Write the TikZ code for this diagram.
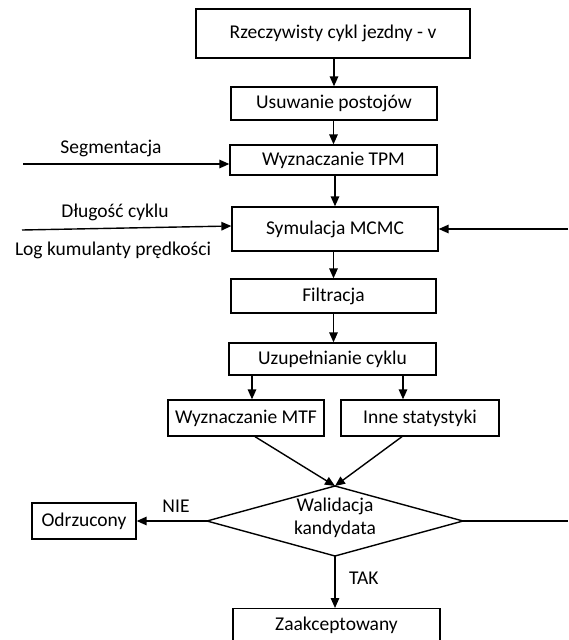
\documentclass[tikz,border=0pt]{standalone}
\usepackage{fontspec}
\setmainfont{Carlito}
\usetikzlibrary{arrows.meta}
\begin{document}
\begin{tikzpicture}[x=1pt,y=-1pt,
  every node/.style={font=\fontsize{19.5}{22}\selectfont},
  box/.style={draw, line width=1.3pt, inner sep=0pt, align=center},
  lbl/.style={inner sep=0pt},
  conn/.style={line width=1.4pt, -{Triangle[length=10pt,width=8.5pt]}},
  plain/.style={line width=1.4pt}]
\clip (0,0) rectangle (568,640);
\useasboundingbox (0,0) rectangle (568,640);
\fill[white] (0,0) rectangle (568,640);

\node[box, line width=2pt, minimum width=274pt, minimum height=49pt] (b1) at (333,33.5) {Rzeczywisty cykl jezdny - v};
\node[box, minimum width=206pt, minimum height=33pt] (b2) at (334,103.5) {Usuwanie postojów};
\node[box, minimum width=207pt, minimum height=30pt] (tpm) at (333.5,160) {Wyznaczanie TPM};
\node[box, minimum width=206pt, minimum height=44pt] (mcmc) at (335,229) {Symulacja MCMC};
\node[box, minimum width=205pt, minimum height=34pt] (fil) at (333.5,296) {Filtracja};
\node[box, minimum width=207pt, minimum height=32pt] (uzu) at (332.5,359) {Uzupełnianie cyklu};
\node[box, minimum width=156pt, minimum height=36pt] (mtf) at (246,418) {Wyznaczanie MTF};
\node[box, minimum width=158pt, minimum height=36pt] (inne) at (420,418) {Inne statystyki};
\node[box, minimum width=104pt, minimum height=36pt] (odr) at (84,521) {Odrzucony};
\node[box, minimum width=207pt, minimum height=36pt, anchor=north] (zak) at (336.5,608) {};
\node[lbl] (zakt) at (336.5,625) {Zaakceptowany};

% diamond
\coordinate (dt) at (335,486);
\coordinate (dl) at (207,521);
\coordinate (dr) at (463,521);
\coordinate (db) at (335,556);
\draw[line width=1.4pt, line join=miter] (dt) -- (dr) -- (db) -- (dl) -- cycle;
\node[lbl, align=center] (val) at (335,518) {Walidacja\\[1pt]kandydata};

% side labels
\node[lbl] (seg) at (111,148) {Segmentacja};
\node[lbl] (dlug) at (115,212) {Długość cyklu};
\node[lbl] (logk) at (113,250) {Log kumulanty prędkości};
\node[lbl] (nie) at (176,506) {NIE};
\node[lbl, anchor=west] (tak) at (349,578) {TAK};

% free ends
\coordinate (segs) at (23,164);
\coordinate (dlugs) at (22,230);
\coordinate (rights) at (568,229);
\coordinate (righte) at (568,521);

% connectors
\draw[conn] (b1.south -| b2) -- (b2.north);
\draw[conn] (b2.south -| tpm) -- (tpm.north);
\draw[conn] (tpm.south -| mcmc) -- (mcmc.north);
\draw[conn] (mcmc.south -| fil) -- (fil.north);
\draw[conn] (fil.south) -- (uzu.north -| fil.south);
\draw[conn] ([xshift=6pt]uzu.south -| mtf) -- ([xshift=6pt]mtf.north);
\draw[conn] ([xshift=-17pt]uzu.south -| inne) -- ([xshift=-17pt]inne.north);
\draw[conn] ([xshift=9pt]mtf.south) -- (dt);
\draw[conn] ([xshift=-18pt]inne.south) -- (dt);
\draw[conn] (dl) -- (odr.east);
\draw[conn] (db) -- (zak.north -| db);
\draw[plain] (dr) -- (righte);
\draw[conn] (segs) -- (segs -| tpm.west);
\draw[conn] (dlugs) -- ([yshift=3pt]mcmc.west);
\draw[conn] (rights) -- (mcmc.east);
\end{tikzpicture}
\end{document}
